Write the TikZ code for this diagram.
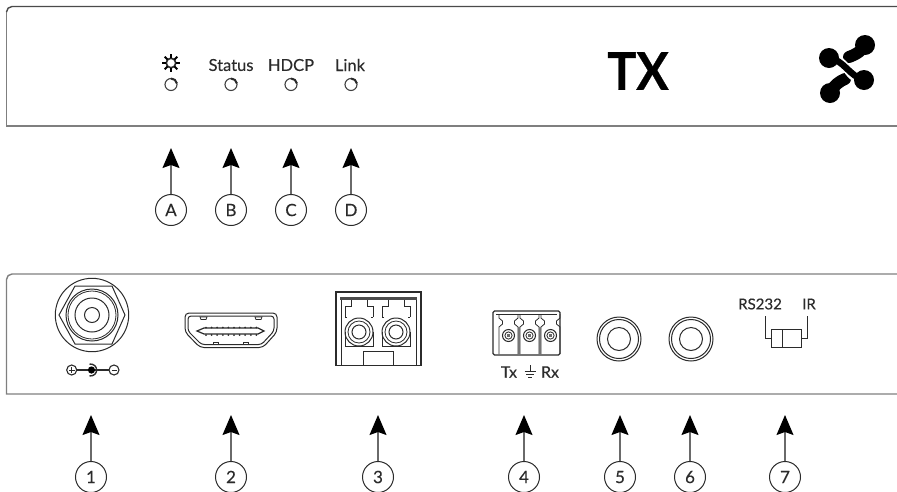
\documentclass[tikz,border=0pt]{standalone}
\usepackage{fontspec}
\setmainfont{Lato}
\newfontfamily\labfont[FakeBold=0.25]{Lato}
\usetikzlibrary{arrows.meta}
\definecolor{ink}{HTML}{2B2B2B}
\definecolor{frameTop}{HTML}{4A4A4A}
\definecolor{frameBot}{HTML}{7F7F7F}
\definecolor{shaft}{HTML}{6A6A6A}
\tikzset{
  panel/.style={draw=frameBot,line width=1.4pt},
  callout/.style={circle,draw=ink,line width=1pt,minimum size=31pt,inner sep=0pt,font=\labfont\fontsize{17}{17}\selectfont,text=ink},
  pointer/.style={draw=shaft,line width=1.2pt,-{Stealth[length=20pt,width=17pt,inset=3pt,black]}},
  tiny/.style={draw=ink,line width=1pt},
  thin2/.style={draw=ink,line width=0.8pt},
  lbl/.style={inner sep=0pt,text=ink,font=\labfont\fontsize{16.5}{16.5}\selectfont},
  lblb/.style={inner sep=0pt,text=ink,font=\labfont\fontsize{15}{15}\selectfont},
  lblc/.style={inner sep=0pt,text=ink,font=\labfont\fontsize{16}{16}\selectfont}
}
\begin{document}
\begin{tikzpicture}[x=1pt,y=-1pt]
\useasboundingbox (0,0) rectangle (897,491);
\clip (0,0) rectangle (897,491);
% top panel
\draw[panel] (897,126) -- (6.5,126) -- (6.5,12);
\draw[panel,draw=frameTop] (6.5,12) arc (180:90:5.5pt) -- (897,6.5);
% bottom panel
\draw[panel] (897,394) -- (6.5,394) -- (6.5,279.5) arc (180:90:5.5pt) -- (897,274);
% top labels
\node[lbl] (lstatus) at (231,65) {Status};
\node[lbl] (lhdcp) at (291,65) {HDCP};
\node[lbl] (llink) at (350,65) {Link};
% sun
\draw[ink,line width=1.7pt] (171,63) circle (4.8pt);
\foreach \a in {0,45,...,315}
  \draw[black,line width=1.8pt] (171,63) ++(\a:4.8pt) -- ++(\a:4.2pt);
% LEDs
\foreach \x in {171,231,291,351}{
  \draw[ink!90,line width=1.1pt] (\x,84.5) circle (6pt);
  \draw[ink,line width=2pt] (\x,78.5) arc (90:10:6pt);
}
% TX
\node[inner sep=0pt,text=black,font=\fontsize{52}{52}\selectfont\bfseries\addfontfeature{FakeBold=0.6},xscale=0.93] (tx) at (638,71) {TX};
% logo
\draw[black,line width=12pt,line cap=round] (865,45) .. controls (860,53) and (854,55) .. (849,57);
\draw[black,line width=12pt,line cap=round] (830,93) .. controls (834,85) and (840,81) .. (845,79);
\draw[white,line width=8.5pt] (838,60.5) .. controls (846,64) and (848,74) .. (856,78);
\draw[black,line width=6.5pt] (829,58) .. controls (844,60) and (849,76) .. (864,80);
\fill[black] (865,45) circle (10pt) (829,58) circle (10pt) (864,80) circle (10pt) (830,93) circle (10pt);
% power connector
\foreach \r/\w in {36.7/1,26/1,24/0.8,17/1,7.5/1}
  \draw[ink,line width=\w pt] (92,315) circle (\r pt);
\draw[ink,line width=1pt] (125,315) -- (112,286) -- (75,286) -- (59,315) -- (75,344) -- (112,344) -- cycle;
% power polarity
\draw[ink,line width=1.1pt] (71.7,370) circle (5pt) (114,370) circle (5pt);
\draw[ink,line width=1pt] (69,370) -- (74.5,370) (71.7,367.2) -- (71.7,372.8) (111.5,370) -- (116.5,370);
\draw[ink,line width=1.2pt] (76.7,370) -- (109,370);
\fill[black] (91.5,370) circle (3.6pt);
\draw[ink,line width=1.4pt] (89.5,364) .. controls (99,363.5) and (99,376.5) .. (89.5,376);
% HDMI
\draw[tiny,rounded corners=4pt] (185,313) -- (277,313) -- (277,332) -- (263,347.5) -- (200,347.5) -- (185,332) -- cycle;
\draw[tiny,rounded corners=3pt] (188,316) -- (274,316) -- (274,331) -- (261.5,344.5) -- (201.5,344.5) -- (188,331) -- cycle;
\draw[tiny,line width=1.2pt] (197,331) -- (204,328) -- (258,328) -- (264,331) -- (258,334) -- (204,334) -- cycle;
\foreach \i in {0,...,9}{
  \fill[ink] (206+\i*5.6,327.5) circle (1pt);
  \fill[ink] (206+\i*5.6,335) circle (1pt);
}
\draw[thin2] (200,317) -- (207,317) -- (206,319.5) -- (201,319.5) -- cycle (255,317) -- (262,317) -- (261,319.5) -- (256,319.5) -- cycle;
\draw[thin2] (213,344) -- (213,342.5) -- (218,342.5) -- (218,344) (243,344) -- (243,342.5) -- (248,342.5) -- (248,344);
% fibre connector
\draw[ink,line width=1.2pt] (336,365.5) -- (336,292) -- (421,292) -- (421,365.5) -- cycle;
\draw[ink,line width=1pt] (341,365.5) -- (341,299) (416,299) -- (416,365.5);
\draw[ink!85,line width=3pt] (340,298.5) -- (417,298.5);
\draw[tiny] (363,365.5) -- (363,351.5) -- (393,351.5) -- (393,365.5);
\foreach \c in {359,396}{
  \draw[thin2] (\c-8,300) -- (\c-8,306) -- (\c-14,306) -- (\c-14,317) (\c-12,317) -- (\c-14,317)
    (\c+8,300) -- (\c+8,306) -- (\c+14,306) -- (\c+14,317) (\c+12,317) -- (\c+14,317)
    (\c-14,332) -- (\c-14,346.5) -- (\c+14,346.5) -- (\c+14,332);
  \foreach \r/\w in {14/1,11/0.8,7/1}
    \draw[ink,line width=\w pt] (\c,332) circle (\r pt);
}
% terminal block
\draw[ink,line width=1.1pt,rounded corners=1.5pt] (493,311) -- (560,311) -- (560,355) -- (493,355) -- cycle;
\draw[thin2] (496,314) -- (557,314);
\foreach \c in {508.5,529.5,550.5}{
  \draw[thin2] (\c-9.5,354) -- (\c-9.5,327) -- (\c-6,324) -- (\c-6,321) -- (\c-9.5,318) -- (\c-9.5,314)
     (\c+9.5,314) -- (\c+9.5,318) -- (\c+6,321) -- (\c+6,324) -- (\c+9.5,327) -- (\c+9.5,354);
  \draw[ink,line width=1pt] (\c,335.5) circle (6pt);
  \draw[ink,line width=0.8pt] (\c,335.5) circle (3.6pt);
  \fill[ink!70] (\c-1.3,334.2) rectangle (\c+1.3,336.8);
}
\draw[ink!65,line width=2.4pt] (519,327) -- (519,354) (540,327) -- (540,354);
% Tx gnd Rx
\node[lblc] (ltx) at (509,372) {Tx};
\node[lblc] (lrx) at (550,372) {Rx};
\draw[ink,line width=1pt] (530,365) -- (530,372) (524.5,371.5) -- (535.5,371.5) (526,374.5) -- (534,374.5) (528,377.5) -- (532,377.5);
% jacks
\foreach \c in {619,691}{
  \foreach \r/\w in {22/1,19.5/1,11.5/1}
    \draw[ink,line width=\w pt] (\c,339) circle (\r pt);
}
% RS232 / IR switch
\node[lblb] (lrs) at (760,304) {RS232};
\node[lblb] (lir) at (809,304) {IR};
\node[draw=ink,line width=1pt,minimum width=30pt,minimum height=18pt,inner sep=0pt] (sw) at (786,338) {};
\draw[tiny] (sw.west) -- (765,338) -- (765,316);
\draw[tiny] (sw.east) -- (807,338) -- (807,316);
\draw[thin2] (782,329) -- (782,347);
% callouts
\foreach \n/\t/\x in {a/A/171,b/B/231,c/C/291,d/D/351}{
  \node[callout] (\n) at (\x,210) {\t};
  \coordinate (\n t) at (\x,148);
  \draw[pointer] (\n) -- (\n t);
}
\foreach \n/\t/\x in {p1/1/91,p2/2/231,p3/3/378,p4/4/524,p5/5/620,p6/6/690,p7/7/785}{
  \node[callout] (\n) at (\x,477) {\t};
  \coordinate (\n t) at (\x,415);
  \draw[pointer] (\n) -- (\n t);
}
\end{tikzpicture}
\end{document}
